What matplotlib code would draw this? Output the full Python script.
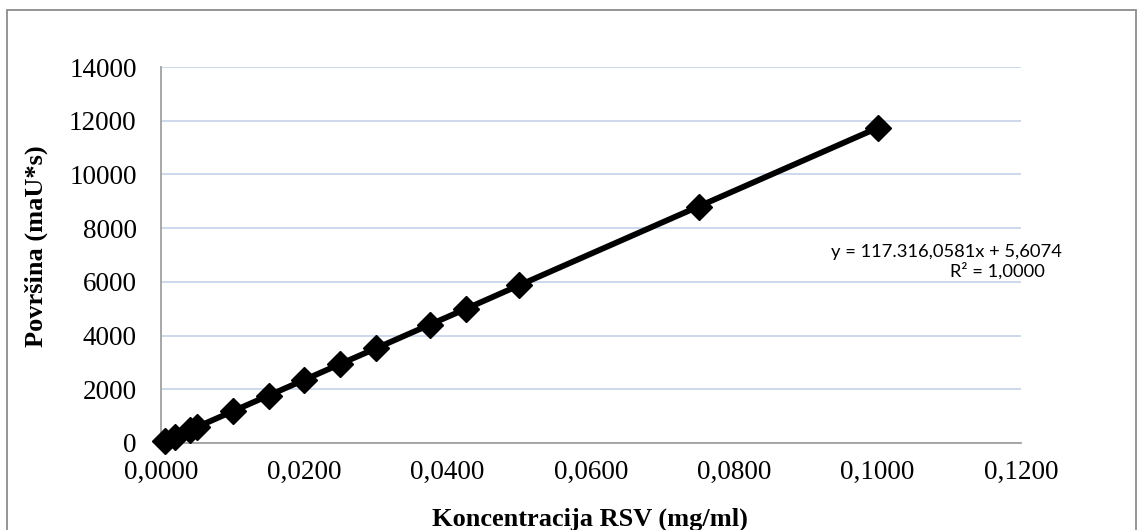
import matplotlib.pyplot as plt
from matplotlib.patches import Rectangle
from matplotlib.ticker import FuncFormatter

# koncentracija (mg/ml) i površina pika (maU*s)
konc = [0.0005, 0.002, 0.004, 0.005, 0.010, 0.015, 0.020, 0.025,
        0.030, 0.0375, 0.0425, 0.050, 0.075, 0.100]
povrsina = [64, 240, 475, 592, 1180, 1766, 2352, 2940,
            3525, 4405, 4990, 5875, 8805, 11735]

x_ticks = [0.0, 0.02, 0.04, 0.06, 0.08, 0.10, 0.12]
y_ticks = [0, 2000, 4000, 6000, 8000, 10000, 12000, 14000]

eq_text = "y = 117.316,0581x + 5,6074"
r2_text = "R² = 1,0000"

W, H = 1142, 530
fig = plt.figure(figsize=(W / 100, H / 100), dpi=100)
ax = fig.add_axes([161 / W, 1 - 443 / H, (1021 - 161) / W, (443 - 67) / H])

serif = "Liberation Serif"

ax.plot(konc, povrsina, color="black", lw=4.2, marker="D", ms=13.5,
        markerfacecolor="black", markeredgecolor="black", zorder=3,
        solid_joinstyle="round", clip_on=False)

ax.set_xlim(0, 0.12)
ax.set_ylim(0, 14000)
ax.set_xticks(x_ticks)
ax.set_yticks(y_ticks)
ax.xaxis.set_major_formatter(FuncFormatter(lambda v, p: f"{v:.4f}".replace(".", ",")))
ax.yaxis.set_major_formatter(FuncFormatter(lambda v, p: f"{int(v)}"))

ax.grid(axis="y", color="#c9d5ea", lw=1.3)
ax.set_axisbelow(True)
for side in ("top", "right"):
    ax.spines[side].set_visible(False)
for side in ("left", "bottom"):
    ax.spines[side].set_color("#a0a0a0")
    ax.spines[side].set_linewidth(1.3)
ax.tick_params(length=0, labelsize=19.5, pad=17.5)
ax.tick_params(axis="x", pad=12)
for lbl in ax.get_xticklabels() + ax.get_yticklabels():
    lbl.set_fontfamily(serif)

fig.text(590 / W, 1 - 519 / H, "Koncentracija RSV (mg/ml)", ha="center", va="center",
         fontsize=19, fontweight="bold", fontfamily=serif)
fig.text(36 / W, 1 - 246 / H, "Površina (maU*s)", ha="center", va="center",
         rotation=90, fontsize=19, fontweight="bold", fontfamily=serif)

fig.text(1062 / W, 1 - 252 / H, eq_text, ha="right", va="center",
         fontsize=13.2, fontfamily="Lato")
fig.text(1045 / W, 1 - 271 / H, r2_text, ha="right", va="center",
         fontsize=13.2, fontfamily="Lato")

# okvir oko grafikona
fig.patches.append(Rectangle((7 / W, -0.1), (1136 - 7) / W, 1.1 - 10 / H,
                             transform=fig.transFigure, fill=False,
                             edgecolor="#8c8c8c", lw=1.3))

fig.savefig("out.png", dpi=100)
